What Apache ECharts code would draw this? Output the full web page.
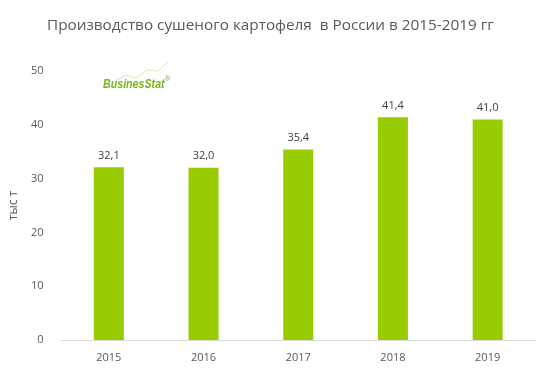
<!DOCTYPE html>
<html><head><meta charset="utf-8">
<script src="https://cdn.jsdelivr.net/npm/echarts@6/dist/echarts.min.js"></script>
<style>html,body{margin:0;padding:0;background:#fff}#c{width:552px;height:380px}</style>
</head><body><div id="c"></div>
<script>
var categories = ['2015','2016','2017','2018','2019'];
var values = [32.1, 32.0, 35.4, 41.4, 41.0];
var yTicks = [0, 10, 20, 30, 40, 50];
var titleText = 'Производство сушеного картофеля  в России в 2015-2019 гг';
var yName = 'тыс т';

var chart = echarts.init(document.getElementById('c'));
chart.setOption({
  animation: false,
  backgroundColor: '#fff',
  textStyle: {fontFamily: 'Open Sans'},
  title: {text: titleText, left: 42, top: 13,
    textStyle: {fontFamily: 'Open Sans', fontSize: 15.3, fontWeight: 'normal', color: '#595959'}},
  grid: {left: 57, right: 17, top: 71, bottom: 40},
  xAxis: {type: 'category', data: categories,
    axisLine: {lineStyle: {color: '#d9d9d9'}}, axisTick: {show: false},
    axisLabel: {color: '#595959', fontSize: 11, margin: 12}},
  yAxis: {type: 'value', min: yTicks[0], max: yTicks[yTicks.length-1], interval: 10,
    name: yName, nameLocation: 'middle', nameGap: 37, nameRotate: 90,
    nameTextStyle: {color: '#595959', fontSize: 12},
    axisLine: {show: false}, axisTick: {show: false}, splitLine: {show: false},
    axisLabel: {color: '#595959', fontSize: 11, margin: 18}},
  series: [{type: 'bar', data: values, barWidth: 30,
    itemStyle: {color: '#99cc00'},
    label: {show: true, position: 'top', distance: 6, color: '#404040', fontSize: 11,
      formatter: function(p){return p.value.toFixed(1).replace('.', ',');}}}],
  graphic: [
    {type: 'polyline', shape: {points: [[115,81],[126,75],[136,78],[147,70],[158,71],[168,62]]},
      style: {stroke: '#c8e39a', lineWidth: 0.8, fill: null}},
    {type: 'text', x: 103, y: 78, scaleX: 0.82, style: {text: 'BusinesStat', fill: '#7ab51d',
      font: 'italic bold 13px "Liberation Sans"'}},
    {type: 'text', x: 165, y: 76, style: {text: '®', fill: '#7ab51d', font: '7px sans-serif'}}
  ]
});
</script></body></html>
